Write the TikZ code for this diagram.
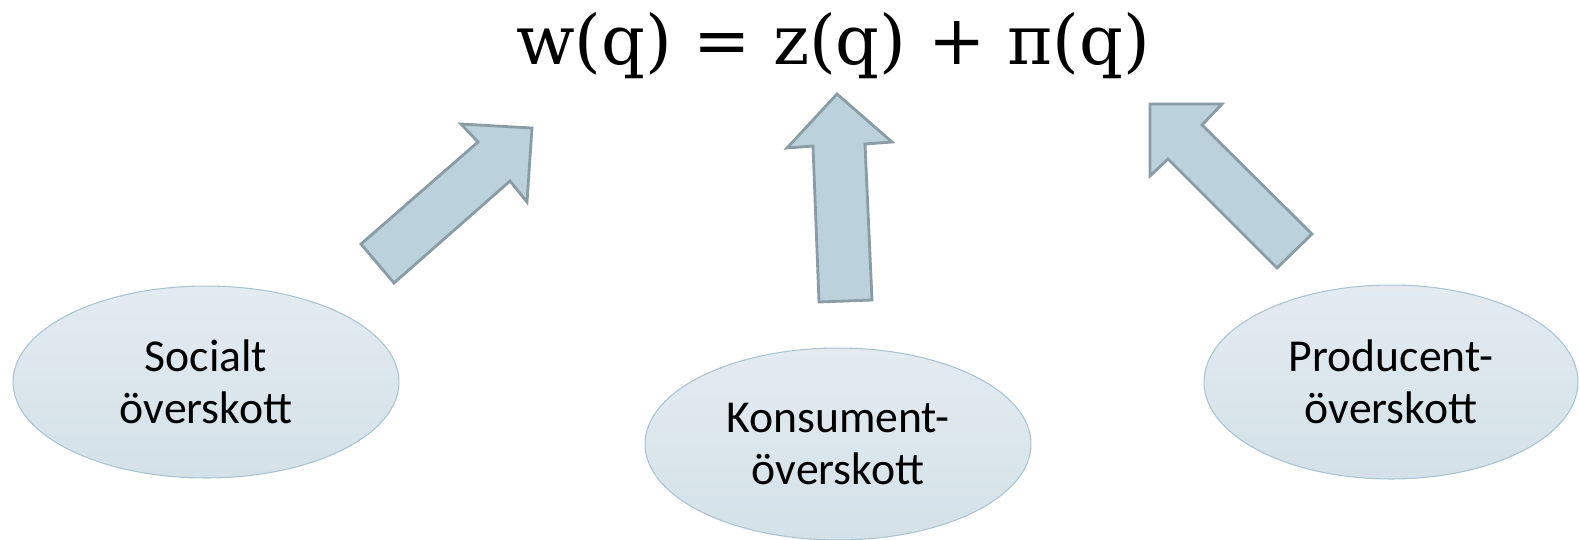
\documentclass[tikz,border=0pt]{standalone}
\usepackage{fontspec}
\setmainfont{Carlito}
\newfontfamily\eqfont{DejaVu Serif}
\usetikzlibrary{shapes.geometric}
\definecolor{ellTop}{HTML}{E3EBF1}
\definecolor{ellBot}{HTML}{D4E1E8}
\definecolor{ellLine}{HTML}{A8C4D2}
\definecolor{arrFill}{HTML}{BBD2DD}
\definecolor{arrLine}{HTML}{8A9CA6}

\begin{document}
\begin{tikzpicture}[x=0.02cm, y=-0.02cm,
  surplus/.style={ellipse, draw=ellLine, line width=0.6pt, top color=ellTop, bottom color=ellBot, minimum width=7.72cm, minimum height=3.84cm, inner sep=0pt, align=center, font=\fontsize{26}{29.5}\selectfont},
  bigarrow/.style={draw=arrLine, line width=1.6pt, fill=arrFill, line join=miter}
]
  \useasboundingbox (0,0) rectangle (1580,539);

  \node[font=\eqfont\fontsize{39}{42}\selectfont] (eq) at (833,46) {w(q) = z(q) + π(q)};

  \node[surplus] (social) at (206,382) {Socialt\\överskott};
  \node[surplus] (konsument) at (838,444) {Konsument-\\överskott};
  \node[surplus, minimum width=7.48cm, minimum height=3.88cm] (producent) at (1391,382) {Producent-\\överskott};

  \draw[bigarrow] (361,244) -- (478,142) -- (461,124) -- (532,128) -- (527,202) -- (510,181) -- (394,283) -- cycle;
  \draw[bigarrow] (819,302) -- (813,146) -- (787,148) -- (837,94) -- (892,142) -- (865,144) -- (872,300) -- cycle;
  \draw[bigarrow] (1277,268) -- (1168,159) -- (1150,176) -- (1150,104) -- (1222,104) -- (1202,125) -- (1312,234) -- cycle;
\end{tikzpicture}
\end{document}
